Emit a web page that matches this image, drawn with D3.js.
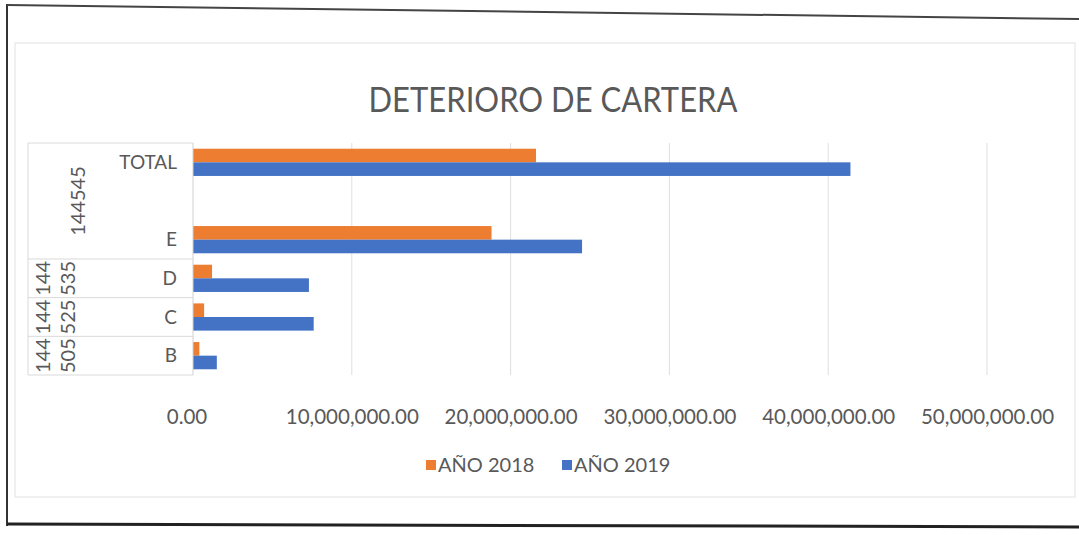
<!DOCTYPE html>
<html>
<head>
<meta charset="utf-8">
<script src="https://cdn.jsdelivr.net/npm/d3@7"></script>
<style>
  body { margin: 0; background: #fff; }
  svg { display: block; font-family: Lato, "Open Sans", sans-serif; }
</style>
</head>
<body>
<svg id="chart" width="1079" height="535"></svg>
<script>
// categories top to bottom ("" is the empty slot inside the first group)
const categories = ["TOTAL", "", "E", "D", "C", "B"];
const groupLabels = [["144545"], ["144", "535"], ["144", "525"], ["144", "505"]];
const groupSizes = [3, 1, 1, 1];
const seriesNames = ["AÑO 2018", "AÑO 2019"];
const values2018 = [21600000, null, 18800000, 1200000, 700000, 400000];
const values2019 = [41400000, null, 24500000, 7300000, 7600000, 1500000];
const xTicks = [0, 10000000, 20000000, 30000000, 40000000, 50000000];

const colors = ["#ED7D31", "#4472C4"];
const textColor = "#595959";

const svg = d3.select("#chart");
const width = 1079, height = 535;
const margin = { top: 143, right: 92, bottom: 160, left: 193 };

// frame of the scanned page
svg.append("line").attr("x1", 7).attr("x2", 7).attr("y1", 4).attr("y2", 526)
  .attr("stroke", "#333").attr("stroke-width", 2);
svg.append("line").attr("x1", 7).attr("x2", 1079).attr("y1", 5).attr("y2", 19)
  .attr("stroke", "#444").attr("stroke-width", 2);
svg.append("line").attr("x1", 7).attr("x2", 1079).attr("y1", 524).attr("y2", 527)
  .attr("stroke", "#222").attr("stroke-width", 3);
// chart area border
svg.append("rect").attr("x", 15).attr("y", 43).attr("width", 1060).attr("height", 454)
  .attr("fill", "none").attr("stroke", "#e2e2e2");

const x = d3.scaleLinear()
  .domain([0, 50000000])
  .range([margin.left, width - margin.right]);

const y = d3.scaleBand()
  .domain(categories.map((d, i) => i))
  .range([margin.top, height - margin.bottom]);

const inner = d3.scaleBand()
  .domain([0, 1])
  .range([0, y.bandwidth()])
  .paddingInner(0)
  .paddingOuter(0.42);

// title
svg.append("text")
  .attr("transform", "translate(553, 112) scale(1, 1.12)")
  .attr("text-anchor", "middle")
  .attr("fill", textColor)
  .style("font-size", "31px")
  .text("DETERIORO DE CARTERA");

// gridlines
svg.append("g")
  .selectAll("line")
  .data(xTicks.slice(1))
  .join("line")
  .attr("x1", d => x(d)).attr("x2", d => x(d))
  .attr("y1", margin.top).attr("y2", height - margin.bottom)
  .attr("stroke", "#dedede");

// x axis labels
const xAxis = d3.axisBottom(x)
  .tickValues(xTicks)
  .tickFormat(d3.format(",.2f"))
  .tickSize(0)
  .tickPadding(0);

const xg = svg.append("g")
  .attr("transform", `translate(0, ${height - margin.bottom + 34})`)
  .call(xAxis);
xg.select(".domain").remove();
xg.selectAll("text")
  .attr("fill", textColor)
  .style("font-family", "Lato, sans-serif")
  .style("font-size", "20.5px");
xg.selectAll(".tick").filter(d => d === 0).attr("transform", `translate(${x(0) - 6},0)`);

// bars
const series = [values2018, values2019];
series.forEach((vals, s) => {
  svg.append("g")
    .selectAll("rect")
    .data(vals.map((v, i) => ({ v, i })).filter(d => d.v != null))
    .join("rect")
    .attr("x", x(0))
    .attr("y", d => y(d.i) + inner(s))
    .attr("width", d => x(d.v) - x(0))
    .attr("height", inner.bandwidth())
    .attr("fill", colors[s]);
});

// category axis line
svg.append("line")
  .attr("x1", x(0)).attr("x2", x(0))
  .attr("y1", margin.top).attr("y2", height - margin.bottom)
  .attr("stroke", "#d0d0d0");

// inner category labels
svg.append("g")
  .selectAll("text")
  .data(categories.map((c, i) => ({ c, i })).filter(d => d.c))
  .join("text")
  .attr("x", x(0) - 16)
  .attr("y", d => y(d.i) + y.bandwidth() / 2)
  .attr("dy", "0.35em")
  .attr("text-anchor", "end")
  .attr("fill", textColor)
  .style("font-size", "19px")
  .text(d => d.c);

// outer group labels and separators
const tableLeft = 28;
let start = 0;
const groupRows = groupSizes.map((n, g) => {
  const row = { g, start, n };
  start += n;
  return row;
});

const sep = svg.append("g").attr("stroke", "#d9d9d9");
sep.append("line").attr("x1", tableLeft).attr("x2", tableLeft)
  .attr("y1", margin.top).attr("y2", height - margin.bottom);
[0].concat(groupRows.map(r => r.start + r.n)).forEach(k => {
  const yy = k < categories.length ? y(k) : height - margin.bottom;
  sep.append("line").attr("x1", tableLeft).attr("x2", x(0))
    .attr("y1", yy).attr("y2", yy);
});

groupRows.forEach(r => {
  const cy = y(r.start) + (r.n * y.bandwidth()) / 2;
  const lines = groupLabels[r.g];
  const t = svg.append("text")
    .attr("transform", `translate(${lines.length > 1 ? 43 : 78}, ${cy}) rotate(-90)`)
    .attr("text-anchor", "middle")
    .attr("fill", textColor)
    .style("font-size", "20px");
  lines.forEach((l, k) => {
    t.append("tspan")
      .attr("x", 0)
      .attr("dy", k === 0 ? "0.35em" : "1.25em")
      .text(l);
  });
});

// legend
const legend = svg.append("g").attr("transform", "translate(426, 465)");
seriesNames.forEach((name, s) => {
  const lg = legend.append("g").attr("transform", `translate(${s * 136}, 0)`);
  lg.append("rect").attr("x", 0).attr("y", -5).attr("width", 10).attr("height", 10)
    .attr("fill", colors[s]);
  lg.append("text").attr("x", 12).attr("y", 0).attr("dy", "0.35em")
    .attr("fill", textColor)
    .style("font-size", "20px")
    .text(name);
});
</script>
</body>
</html>
